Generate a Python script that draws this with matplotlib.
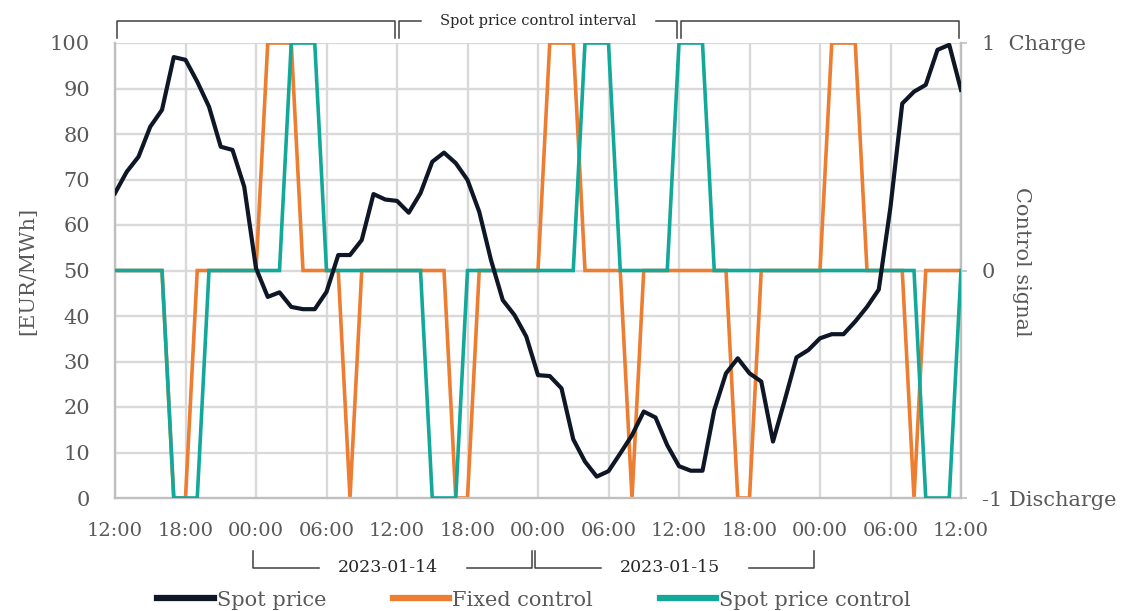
import matplotlib
matplotlib.use("Agg")
import matplotlib.pyplot as plt
from matplotlib.transforms import blended_transform_factory
from matplotlib.lines import Line2D
import numpy as np

# ---------------- data ----------------
hours = list(range(73))  # hourly from 2023-01-13 12:00 to 2023-01-16 12:00
spot_price = [67.0, 71.7, 75.0, 81.6, 85.3, 96.9, 96.3, 91.5, 86.0, 77.2,
              76.5, 68.4, 50.5, 44.2, 45.2, 42.0, 41.5, 41.5, 45.3, 53.4,
              53.4, 56.7, 66.8, 65.6, 65.3, 62.7, 67.0, 73.9, 75.9, 73.6,
              69.9, 62.9, 52.3, 43.5, 40.2, 35.5, 27.0, 26.8, 24.1, 12.9,
              8.0, 4.7, 5.9, 9.8, 13.8, 19.0, 17.7, 11.6, 7.0, 6.0,
              6.0, 19.3, 27.4, 30.7, 27.4, 25.6, 12.4, 21.5, 30.9, 32.5,
              35.1, 36.0, 36.0, 38.8, 42.0, 45.8, 64.0, 86.7, 89.3, 90.8,
              98.5, 99.6, 89.7]
fixed_control = [0, 0, 0, 0, 0, -1, -1, 0, 0, 0,
                 0, 0, 0, 1, 1, 1, 0, 0, 0, 0,
                 -1, 0, 0, 0, 0, 0, 0, 0, 0, -1,
                 -1, 0, 0, 0, 0, 0, 0, 1, 1, 1,
                 0, 0, 0, 0, -1, 0, 0, 0, 0, 0,
                 0, 0, 0, -1, -1, 0, 0, 0, 0, 0,
                 0, 1, 1, 1, 0, 0, 0, 0, -1, 0,
                 0, 0, 0]
spot_control = [0, 0, 0, 0, 0, -1, -1, -1, 0, 0,
                0, 0, 0, 0, 0, 1, 1, 1, 0, 0,
                0, 0, 0, 0, 0, 0, 0, -1, -1, -1,
                0, 0, 0, 0, 0, 0, 0, 0, 0, 0,
                1, 1, 1, 0, 0, 0, 0, 0, 1, 1,
                1, 0, 0, 0, 0, 0, 0, 0, 0, 0,
                0, 0, 0, 0, 0, 0, 0, 0, 0, -1,
                -1, -1, 0]
x_tick_labels = ["12:00", "18:00", "00:00", "06:00", "12:00", "18:00", "00:00",
                 "06:00", "12:00", "18:00", "00:00", "06:00", "12:00"]
right_tick_labels = ["-1 Discharge", "0", "1  Charge"]
control_intervals = [(0, 24), (24, 48), (48, 72)]
interval_label = "Spot price control interval"
day_intervals = [(12, 36, "2023-01-14"), (36, 60, "2023-01-15")]

# ---------------- style ----------------
FONT = "DejaVu Serif"
plt.rcParams["font.family"] = [FONT]
GREY = "#595959"
GRID = "#d9d9d9"
SPINE = "#bfbfbf"
C_SPOT = "#0f1626"
C_FIXED = "#ed7d31"
C_SPOTCTRL = "#12a99b"

W, H = 1122, 611
fig = plt.figure(figsize=(W / 100, H / 100), dpi=100)
ax = fig.add_axes([115 / W, 1 - 498 / H, (961 - 115) / W, (498 - 43) / H])
ax2 = ax.twinx()

# lines
ax2.plot(hours, fixed_control, color=C_FIXED, lw=2.6, zorder=2, solid_joinstyle="miter")
ax2.plot(hours, spot_control, color=C_SPOTCTRL, lw=2.6, zorder=3, solid_joinstyle="miter")
ax2.set_zorder(1)
ax.set_zorder(2)
ax.patch.set_visible(False)
ax.plot(hours, spot_price, color=C_SPOT, lw=3.0, zorder=4)

ax.set_xlim(0, 72)
ax.set_ylim(0, 100)
ax2.set_ylim(-1, 1)

ax.set_xticks(np.arange(0, 73, 6))
ax.set_xticklabels(x_tick_labels)
ax.set_yticks(np.arange(0, 101, 10))
ax2.set_yticks([-1, 0, 1])
ax2.set_yticklabels(right_tick_labels)

# grid
for v in np.arange(0, 73, 6):
    ax2.axvline(v, color=GRID, lw=1.7, zorder=0)
for h in np.arange(10, 101, 10):
    ax2.axhline(-1 + h / 50, color=GRID, lw=1.7, zorder=0)

for a in (ax, ax2):
    for s in a.spines.values():
        s.set_visible(False)
for k in ("left", "right", "bottom"):
    ax2.spines[k].set_visible(True)
    ax2.spines[k].set_color(SPINE)
    ax2.spines[k].set_linewidth(1.7)

ax.tick_params(axis="x", length=0, pad=17, labelsize=14, labelcolor=GREY)
ax.tick_params(axis="y", length=0, pad=18, labelsize=15, labelcolor=GREY)
ax2.tick_params(axis="y", length=4, width=1.2, color=SPINE, pad=11, labelsize=15, labelcolor=GREY)
for t in ax2.get_yticklabels():
    t.set_ha("left")

ax.set_ylabel("[EUR/MWh]", fontsize=15, color=GREY)
ax.yaxis.set_label_coords(-0.092, 0.5)
ax2.set_ylabel("Control signal", fontsize=15, color=GREY, rotation=270, va="center")
ax2.yaxis.set_label_coords(1.072, 0.52)

# ---------------- brackets ----------------
BR = "#404040"
tr = blended_transform_factory(ax.transData, fig.transFigure)
def fy(px):
    return 1 - px / H

inset = 0.2
y_top_h, y_top_v = fy(20.5), fy(37.5)
for i, (a0, a1) in enumerate(control_intervals):
    x0, x1 = a0 + inset, a1 - inset
    if i == 1:
        mid = (a0 + a1) / 2
        half_gap = 10.0
        ax.plot([x0, x0, mid - half_gap], [y_top_v, y_top_h, y_top_h], color=BR, lw=1.1,
                transform=tr, clip_on=False)
        ax.plot([mid + half_gap, x1, x1], [y_top_h, y_top_h, y_top_v], color=BR, lw=1.1,
                transform=tr, clip_on=False)
        ax.text(mid, y_top_h, interval_label, transform=tr, ha="center", va="center",
                fontsize=10.5, color="#262626")
    else:
        ax.plot([x0, x0, x1, x1], [y_top_v, y_top_h, y_top_h, y_top_v], color=BR, lw=1.1,
                transform=tr, clip_on=False)

y_bot_v, y_bot_h = fy(551), fy(568)
for a0, a1, lab in day_intervals:
    x0, x1 = a0 - 0.25, a1 - 0.5
    mid = (x0 + x1) / 2
    half_gap = 6.3
    ax.plot([x0, x0, mid - half_gap], [y_bot_v, y_bot_h, y_bot_h], color=BR, lw=1.1,
            transform=tr, clip_on=False)
    ax.plot([mid + half_gap, x1, x1], [y_bot_h, y_bot_h, y_bot_v], color=BR, lw=1.1,
            transform=tr, clip_on=False)
    ax.text(mid - 0.4, fy(567), lab, transform=tr, ha="center", va="center",
            fontsize=12.5, color="#262626")

# ---------------- legend ----------------
handles = [Line2D([], [], color=C_SPOT, lw=4.5),
           Line2D([], [], color=C_FIXED, lw=4.5),
           Line2D([], [], color=C_SPOTCTRL, lw=4.5)]
leg = fig.legend(handles, ["Spot price", "Fixed control", "Spot price control"],
                 loc="center", bbox_to_anchor=(534 / W, fy(600)), ncol=3, frameon=False,
                 fontsize=15, handlelength=2.7, handletextpad=0.15, columnspacing=3.2)
for t in leg.get_texts():
    t.set_color(GREY)

fig.savefig("out.png", dpi=100)
